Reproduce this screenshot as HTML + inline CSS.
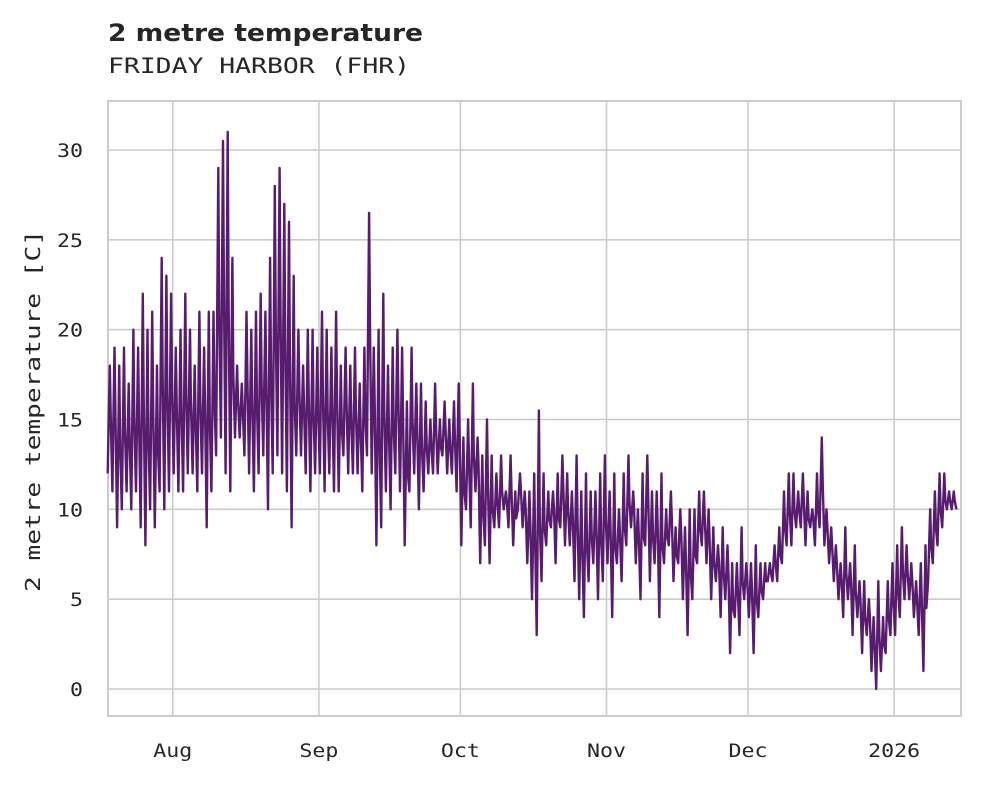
<!DOCTYPE html>
<html><head><meta charset="utf-8"><style>
body{margin:0;background:#fff;}
svg text{fill:#262626;}
</style></head><body>
<svg width="981" height="782" xmlns="http://www.w3.org/2000/svg">
<text x="108" y="41" font-family="DejaVu Sans, sans-serif" font-weight="bold" font-size="24" textLength="315" lengthAdjust="spacingAndGlyphs">2 metre temperature</text>
<text x="108" y="73" font-family="DejaVu Sans Mono, Liberation Mono, monospace" font-size="21" textLength="302" lengthAdjust="spacingAndGlyphs">FRIDAY HARBOR (FHR)</text>
<g id="grid"></g>
<rect x="108" y="101" width="853" height="615" fill="none" stroke="#cccccc" stroke-width="2"/>
<g id="ticks"></g>
<path id="series" fill="none" stroke="#581c6e" stroke-width="2.4" stroke-linejoin="round"/>
<text transform="translate(40,411) rotate(-90)" text-anchor="middle" font-family="DejaVu Sans Mono, Liberation Mono, monospace" font-size="20" textLength="362" lengthAdjust="spacingAndGlyphs">2 metre temperature [C]</text>
</svg>
<script>
const startDate = "2025-07-18";
const dailyMin = [12,11,9,10,11,10,11,9,8,10,9,11,10,11,
12,11,11,12,12,11,12,9,11,13,14,12,11,14,14,13,12,11,12,13,10,12,13,12,11,9,13,13,12,11,12,
12,11,12,11,11,13,12,12,12,11,13,12,8,9,11,10,12,11,8,11,12,10,11,12,12,12,13,12,12,11,
8,10,9,11,7,8,7,9,9,10,9,8,10,9,7,5,3,6,8,9,7,9,8,8,6,5,4,6,7,5,6,
7,4,7,6,8,9,7,5,8,6,7,4,7,8,6,7,5,3,5,7,8,7,5,6,4,5,2,4,3,5,
4,2,4,5,6,6,6,7,8,8,9,9,8,9,8,9,8,7,6,5,4,5,3,4,2,3,1,0,1,2,3,
3,4,5,5,4,3,1,6,7,8,9,10,10,10];
const dailyMax = [18,19,18,19,17,20,19,22,20,21,18,24,23,22,
19,20,22,20,18,21,19,21,21,29,30.5,31,24,18,17,21,20,21,22,21,24,28,29,27,26,23,20,18,20,20,19,
21,20,19,21,18,19,18,19,17,19,26.5,19,20,22,18,19,20,19,16,19,17,17,16,15,17,15,16,15,16,
17,14,15,17,14,13,15,13,12,13,11,13,11,12,11,11,12,15.5,12,11,11,12,13,12,11,13,11,12,11,11,12,
13,11,12,10,12,13,11,10,12,13,11,11,12,10,11,9,10,9,10,10,11,11,10,9,8,9,8,7,7,9,
7,7,8,7,7,7,8,9,11,12,12,11,12,11,10,12,14,10,9,8,7,9,7,8,6,6,5,4,6,4,6,
7,8,9,8,7,6,7,8,10,11,12,12,11,11];
const yTicks = [0,5,10,15,20,25,30];
const xTickLabels = ["Aug","Sep","Oct","Nov","Dec","2026"];
const xTickDates = ["2025-08-01","2025-09-01","2025-10-01","2025-11-01","2025-12-01","2026-01-01"];

const NS="http://www.w3.org/2000/svg";
const L=108,R=961,T=101,B=716;
const t0=Date.UTC(2025,6,17,10), t1=Date.UTC(2026,0,14,8);
function xs(ms){return L-4+(ms-t0)/(t1-t0)*(R-L);}
function ys(v){return 689-v*(689-150)/30;}
function dms(s){const p=s.split('-');return Date.UTC(+p[0],+p[1]-1,+p[2]);}
const grid=document.getElementById('grid'), ticks=document.getElementById('ticks');
yTicks.forEach(v=>{
 const y=ys(v);
 const ln=document.createElementNS(NS,'line');
 ln.setAttribute('x1',L);ln.setAttribute('x2',R);ln.setAttribute('y1',y);ln.setAttribute('y2',y);
 ln.setAttribute('stroke','#cccccc');ln.setAttribute('stroke-width','1.6');
 
 
 grid.appendChild(ln);
 const tx=document.createElementNS(NS,'text');
 tx.setAttribute('x',83);tx.setAttribute('y',y+7);tx.setAttribute('text-anchor','end');
 tx.setAttribute('font-family','DejaVu Sans Mono, Liberation Mono, monospace');tx.setAttribute('font-size','19');
 tx.setAttribute('textLength',String(v).length*13);tx.setAttribute('lengthAdjust','spacingAndGlyphs');
 tx.textContent=v;
 
 
 ticks.appendChild(tx);
});
xTickDates.forEach((d,i)=>{
 const x=xs(dms(d));
 const ln=document.createElementNS(NS,'line');
 ln.setAttribute('x1',x);ln.setAttribute('x2',x);ln.setAttribute('y1',T);ln.setAttribute('y2',B);
 ln.setAttribute('stroke','#cccccc');ln.setAttribute('stroke-width','1.6');
 
 
 grid.appendChild(ln);
 const tx=document.createElementNS(NS,'text');
 tx.setAttribute('x',x);tx.setAttribute('y',757);tx.setAttribute('text-anchor','middle');
 tx.setAttribute('font-family','DejaVu Sans Mono, Liberation Mono, monospace');tx.setAttribute('font-size','19');
 tx.setAttribute('textLength',xTickLabels[i].length*13);tx.setAttribute('lengthAdjust','spacingAndGlyphs');
 tx.textContent=xTickLabels[i];
 
 
 ticks.appendChild(tx);
});
const s0=dms(startDate), day=86400000;
let d='';
for(let i=0;i<dailyMin.length;i++){
 const a=s0+i*day;
 const pts=[[a+0.2*day,dailyMin[i]],[a+0.42*day,(dailyMin[i]+dailyMax[i])/2],[a+0.65*day,dailyMax[i]],[a+0.85*day,(dailyMin[i]+dailyMax[i])/2]];
 pts.forEach((p,j)=>{d+=(i===0&&j===0?'M':'L')+xs(p[0]).toFixed(1)+','+ys(p[1]).toFixed(1);});
}
document.getElementById('series').setAttribute('d',d);
</script>
</body></html>
